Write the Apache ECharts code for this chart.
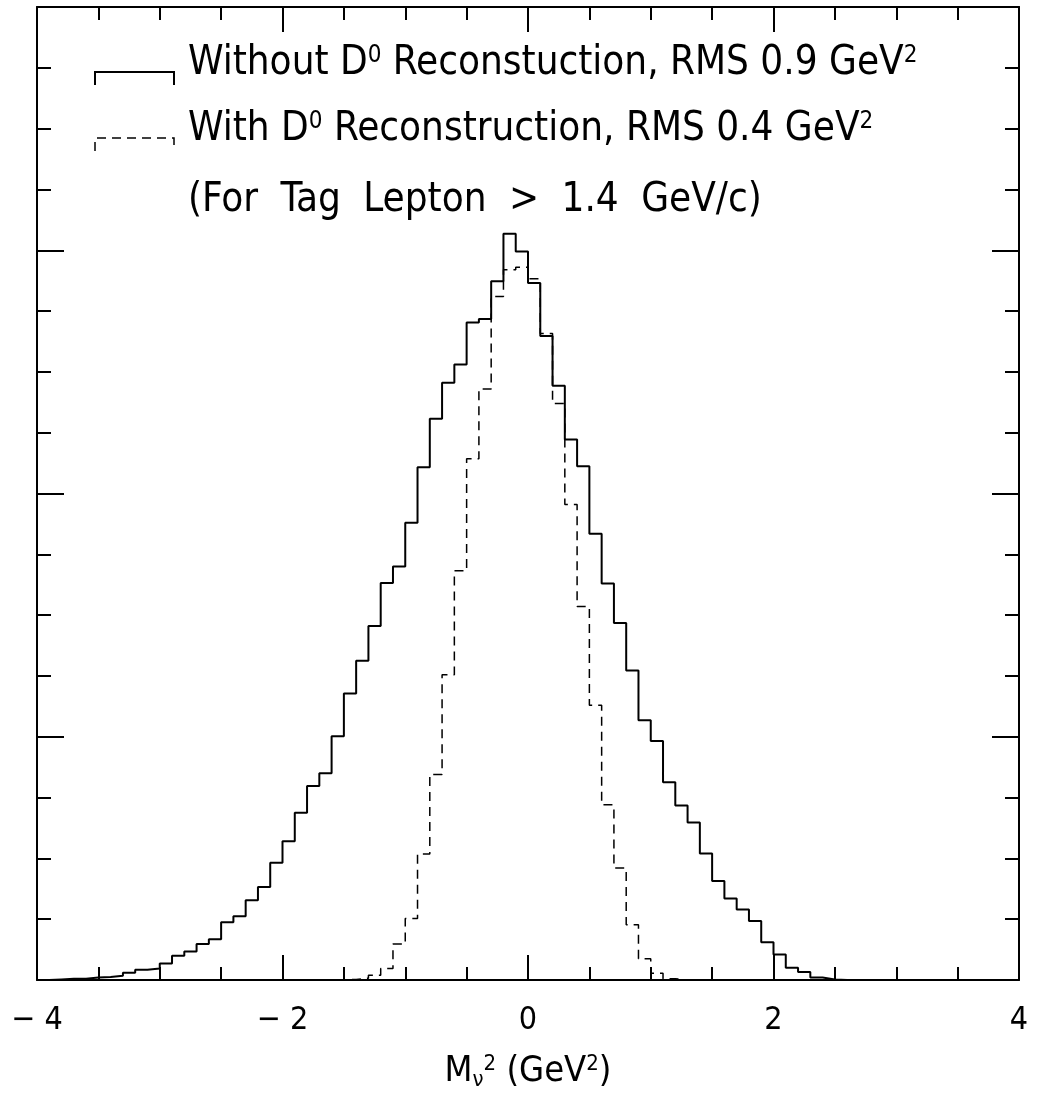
<!DOCTYPE html>
<html>
<head>
<meta charset="utf-8">
<script src="https://cdn.jsdelivr.net/npm/echarts@6/dist/echarts.min.js"></script>
<style>
html,body{margin:0;padding:0;background:#fff;overflow:hidden;}
#chart{width:1037px;height:1096px;}
</style>
</head>
<body>
<div id="chart"></div>
<script>
// Histogram binning (GeV^2)
const binStart = -4;
const binWidth = 0.1;
const xTicks = [-4, -2, 0, 2, 4];

// Without D0 reconstruction (solid), 80 bins from -4 to 4
const withoutD0 = [
  0, 0.01, 0.02, 0.02, 0.04, 0.05, 0.07, 0.12, 0.17, 0.19,
  0.27, 0.40, 0.47, 0.59, 0.67, 0.95, 1.05, 1.31, 1.53, 1.93,
  2.28, 2.75, 3.19, 3.40, 4.01, 4.71, 5.25, 5.82, 6.53, 6.80,
  7.52, 8.43, 9.23, 9.82, 10.12, 10.81, 10.87, 11.49, 12.27, 11.98,
  11.46, 10.59, 9.77, 8.89, 8.45, 7.34, 6.52, 5.87, 5.09, 4.27,
  3.93, 3.25, 2.87, 2.59, 2.08, 1.63, 1.34, 1.16, 0.97, 0.62,
  0.42, 0.20, 0.13, 0.04, 0.01, 0, 0, 0, 0, 0,
  0, 0, 0, 0, 0, 0, 0, 0, 0, 0
];

// With D0 reconstruction (dashed)
const withD0 = [
  0, 0, 0, 0, 0, 0, 0, 0, 0, 0,
  0, 0, 0, 0, 0, 0, 0, 0, 0, 0,
  0, 0, 0, 0, 0, 0.01, 0.03, 0.08, 0.19, 0.59,
  1.01, 2.07, 3.38, 5.02, 6.73, 8.57, 9.72, 11.24, 11.68, 11.72,
  11.53, 10.63, 9.48, 7.82, 6.14, 4.52, 2.88, 1.84, 0.91, 0.35,
  0.11, 0.02, 0, 0, 0, 0, 0, 0, 0, 0,
  0, 0, 0, 0, 0, 0, 0, 0, 0, 0,
  0, 0, 0, 0, 0, 0, 0, 0, 0, 0
];

const legendLines = [
  ['Without D', '0', ' Reconstuction, RMS 0.9 GeV', '2'],
  ['With D', '0', ' Reconstruction, RMS 0.4 GeV', '2']
];
const noteText = '(For Tag Lepton > 1.4 GeV/c)';

function toSteps(vals) {
  const pts = vals.map((v, k) => [+(binStart + k * binWidth).toFixed(2), v]);
  pts.push([+(binStart + vals.length * binWidth).toFixed(2), vals[vals.length - 1]]);
  return pts;
}

const FONT = '"DejaVu Sans Condensed", "Liberation Sans Narrow", "Liberation Sans"';
const AXFONT = '"DejaVu Sans Condensed", "Liberation Sans"';
const chart = echarts.init(document.getElementById('chart'), null, {renderer: 'canvas', width: 1037, height: 1096});

const grid = {left: 37, top: 7, width: 982, height: 977};

function axisCommon() {
  return {
    min: -4, max: 4, interval: 2,
    axisLine: {show: true, onZero: false, lineStyle: {color: '#000', width: 2}},
    axisTick: {show: true, inside: true, length: 25, lineStyle: {color: '#000', width: 2}},
    minorTick: {show: true, splitNumber: 4, length: 13, lineStyle: {color: '#000', width: 2}},
    splitLine: {show: false},
    axisLabel: {show: false}
  };
}

const bottomX = Object.assign(axisCommon(), {
  type: 'value', position: 'bottom',
  axisLabel: {
    show: true, margin: 25, color: '#000', fontFamily: AXFONT, fontSize: 32,
    formatter: v => (v < 0 ? '\u2212 ' + Math.abs(v) : String(v))
  },
  name: '{m|M}{sub|\u03bd}{sup|2}{m| (GeV}{sup|2}{m|)}',
  nameLocation: 'middle', nameGap: 73,
  nameTextStyle: {
    color: '#000', fontFamily: AXFONT, fontSize: 36,
    rich: {
      m: {fontFamily: AXFONT, fontSize: 36, color: '#000'},
      sub: {fontFamily: AXFONT, fontSize: 22, color: '#000', verticalAlign: 'bottom', padding: [16, 0, 0, 0]},
      sup: {fontFamily: AXFONT, fontSize: 22, color: '#000', verticalAlign: 'top', padding: [0, 0, 4, 0]}
    }
  }
});
const topX = Object.assign(axisCommon(), {type: 'value', position: 'top'});

function yCommon(pos) {
  return {
    type: 'value', position: pos, min: 0, max: 16, interval: 4,
    axisLine: {show: true, onZero: false, lineStyle: {color: '#000', width: 2}},
    axisTick: {show: true, inside: true, length: 27, lineStyle: {color: '#000', width: 2}},
    minorTick: {show: true, splitNumber: 4, length: 14, lineStyle: {color: '#000', width: 2}},
    splitLine: {show: false},
    axisLabel: {show: false}
  };
}

const richLegend = {
  t: {fontFamily: FONT, fontSize: 40, color: '#000'},
  s: {fontFamily: FONT, fontSize: 24, color: '#000', verticalAlign: 'top'},
  w: {fontFamily: FONT, fontSize: 40, color: '#000', padding: [0, 11, 0, 0]}
};

function legendText(parts) {
  return '{t|' + parts[0] + '}{s|' + parts[1] + '}{t|' + parts[2] + '}{s|' + parts[3] + '}';
}

function spacedText(str) {
  const words = str.split(' ');
  return words.map((w, i) => i < words.length - 1 ? '{w|' + w + ' }' : '{t|' + w + '}').join('');
}

const graphics = [
  {type: 'polyline', shape: {points: [[95, 85], [95, 72], [174, 72], [174, 85]]},
   style: {stroke: '#000', lineWidth: 2, fill: null}},
  {type: 'polyline', shape: {points: [[95, 151], [95, 138], [174, 138], [174, 151]]},
   style: {stroke: '#000', lineWidth: 1.5, fill: null, lineDash: [9, 6]}},
  {type: 'text', left: 188, top: 44,
   style: {text: legendText(legendLines[0]), rich: richLegend, fill: '#000'}},
  {type: 'text', left: 188, top: 110,
   style: {text: legendText(legendLines[1]), rich: richLegend, fill: '#000'}},
  {type: 'text', left: 188, top: 181,
   style: {text: spacedText(noteText), rich: richLegend, fill: '#000'}}
];

chart.setOption({
  animation: false,
  backgroundColor: '#fff',
  grid: grid,
  xAxis: [bottomX, topX],
  yAxis: [yCommon('left'), yCommon('right')],
  graphic: graphics,
  series: [
    {type: 'line', name: 'Without D0', xAxisIndex: 0, yAxisIndex: 0, step: 'end',
     symbol: 'none', data: toSteps(withoutD0), clip: false,
     lineStyle: {color: '#000', width: 2}},
    {type: 'line', name: 'With D0', xAxisIndex: 0, yAxisIndex: 0, step: 'end',
     symbol: 'none', data: toSteps(withD0), clip: false,
     lineStyle: {color: '#000', width: 1.5, type: [9, 6]}}
  ]
});
</script>
</body>
</html>
